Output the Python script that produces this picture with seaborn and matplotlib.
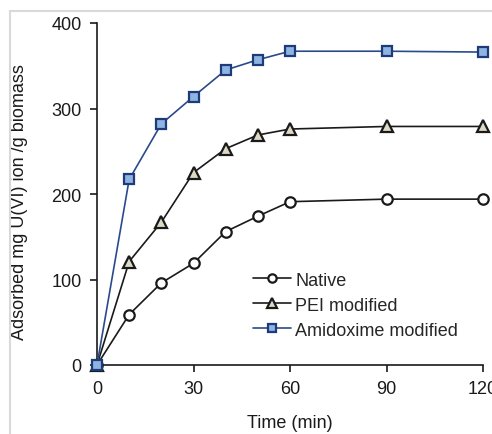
import matplotlib
matplotlib.use("Agg")
import matplotlib.pyplot as plt
import seaborn as sns
import pandas as pd
from matplotlib.patches import Rectangle

time = [0, 10, 20, 30, 40, 50, 60, 90, 120]
native = [0, 59, 96, 119, 156, 174, 191, 194, 194]
pei = [0, 121, 167, 225, 253, 269, 276, 279, 279]
amidoxime = [0, 217, 282, 314, 345, 357, 367, 367, 366]
x_ticks = [0, 30, 60, 90, 120]
y_ticks = [0, 100, 200, 300, 400]

sns.set_style("white")
plt.rcParams['font.family'] = ['Liberation Sans', 'DejaVu Sans']

fig = plt.figure(figsize=(4.92, 4.35), dpi=100)
ax = fig.add_axes([97/492, 1-366/435, 386/492, 342/435])

series = [
    ("Native", native, "#1a1a1a", "o", "white", "#1a1a1a", 7.5),
    ("PEI modified", pei, "#1a1a1a", "^", "#ddd9c4", "#1a1a1a", 8.5),
    ("Amidoxime modified", amidoxime, "#2a4a8c", "s", "#8db4e2", "#1f3a78", 7.5),
]
for name, vals, lc, mk, mfc, mec, ms in series:
    df = pd.DataFrame({"Time": time, "Value": vals})
    sns.lineplot(data=df, x="Time", y="Value", ax=ax, color=lc, marker=mk,
                 markerfacecolor=mfc, markeredgecolor=mec, markersize=ms,
                 markeredgewidth=1.6, linewidth=1.2, label=name, clip_on=False,
                 zorder=3)

ax.set_xlim(0, 120)
ax.set_ylim(0, 400)
ax.set_xticks(x_ticks)
ax.set_yticks(y_ticks)
ax.tick_params(axis='both', labelsize=13, colors="#1a1a1a", direction='out',
               length=5, width=1.2, bottom=True, left=True, pad=6)
for s in ["top", "right"]:
    ax.spines[s].set_visible(False)
for s in ["left", "bottom"]:
    ax.spines[s].set_color("#1a1a1a")
    ax.spines[s].set_linewidth(1.2)

ax.set_xlabel("Time (min)", fontsize=13, labelpad=12, color="#1a1a1a")
ax.set_ylabel("Adsorbed mg U(VI) ion /g biomass", fontsize=13, color="#1a1a1a")
ax.yaxis.set_label_coords(-0.178, 0.48)

leg = ax.legend(loc="center left", bbox_to_anchor=(0.385, 0.175), frameon=False,
                fontsize=13, handlelength=2.1, handletextpad=0.25, labelspacing=0.45,
                borderaxespad=0, markerscale=0.8)

fig.patches.append(Rectangle((10/492, -0.05), 1.2, 1.05 - 12/435,
                             transform=fig.transFigure, fill=False,
                             edgecolor="#d9d9d9", linewidth=1.5, zorder=0))

fig.savefig("out.png", dpi=100)
